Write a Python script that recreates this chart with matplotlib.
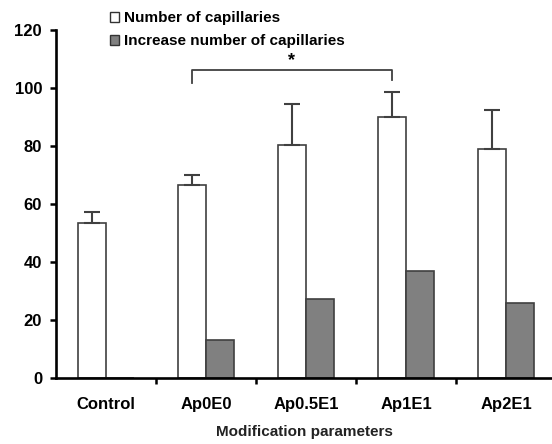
import matplotlib
matplotlib.use("Agg")
import matplotlib.pyplot as plt
from matplotlib.patches import Patch
import numpy as np

plt.rcParams["font.family"] = ["Liberation Sans", "DejaVu Sans"]

# Data
categories = ["Control", "Ap0E0", "Ap0.5E1", "Ap1E1", "Ap2E1"]
capillaries = [53.4, 66.8, 80.6, 90.3, 79.0]
capillaries_err = [3.9, 3.2, 13.9, 8.6, 13.4]
increase = [0.0, 13.1, 27.2, 36.9, 25.8]
series_labels = ["Number of capillaries", "Increase number of capillaries"]
y_ticks = [0, 20, 40, 60, 80, 100, 120]
x_label = "Modification parameters"

fig = plt.figure(figsize=(5.52, 4.44), dpi=100)
ax = fig.add_axes([56 / 552, 66 / 444, 1 - 56 / 552, 347.5 / 444])

x = np.arange(len(categories))
w = 0.28
edge = "#404040"

ax.bar(x - w / 2, capillaries, width=w, color="white", edgecolor=edge,
       linewidth=1.2, zorder=2)
ax.errorbar(x - w / 2, capillaries,
            yerr=[np.zeros(len(categories)), capillaries_err],
            fmt="none", ecolor=edge, elinewidth=1.5, capsize=5.5,
            capthick=1.5, zorder=3)
ax.bar(x + w / 2, increase, width=w, color="#808080", edgecolor=edge,
       linewidth=1.2, zorder=2)

# Significance bracket between Ap0E0 and Ap1E1
x1, x2 = x[1] - w / 2, x[3] - w / 2
ax.plot([x1, x1, x2, x2], [102, 106.2, 106.2, 103], color=edge, lw=1.3,
        zorder=3, clip_on=False)
ax.text((x1 + x2) / 2, 106.8, "*", ha="center", va="bottom",
        fontsize=13, fontweight="bold", color="black")

ax.set_xlim(-0.5, 4.46)
ax.set_ylim(0, 120)

for s in ["top", "right"]:
    ax.spines[s].set_visible(False)
for s in ["left", "bottom"]:
    ax.spines[s].set_linewidth(1.9)
    ax.spines[s].set_color("black")

ax.set_yticks(y_ticks)
ax.set_yticklabels([str(v) for v in y_ticks])
ax.tick_params(axis="y", direction="out", length=4, width=1.8, pad=6,
               labelsize=12)
ax.set_xticks(x)
ax.set_xticklabels(categories)
ax.set_xticks(x[:-1] + 0.5, minor=True)
ax.tick_params(axis="x", which="major", length=0, pad=14, labelsize=12)
ax.tick_params(axis="x", which="minor", direction="out", length=4, width=1.8)
for lbl in ax.get_xticklabels() + ax.get_yticklabels():
    lbl.set_fontweight("bold")

ax.set_xlabel(x_label, fontsize=11, fontweight="bold", color="#222222",
              labelpad=9)

handles = [Patch(facecolor="white", edgecolor="#333333", linewidth=1.0),
           Patch(facecolor="#808080", edgecolor="#333333", linewidth=1.0)]
leg = fig.legend(handles, series_labels, loc="upper left",
                 bbox_to_anchor=(104 / 552, 1 - 5 / 444), frameon=False,
                 handlelength=0.6, handleheight=0.6, handletextpad=0.3,
                 labelspacing=0.6, borderaxespad=0,
                 prop={"size": 11, "weight": "bold"})

fig.savefig("out.png", dpi=100)
